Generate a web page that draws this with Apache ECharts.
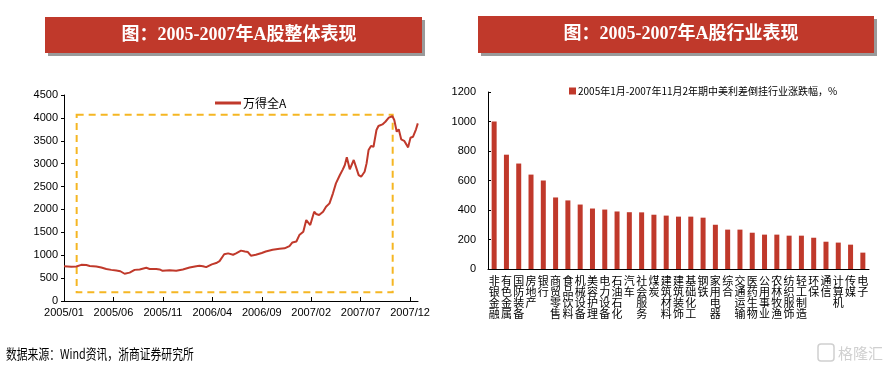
<!DOCTYPE html>
<html><head><meta charset="utf-8">
<script src="https://cdn.jsdelivr.net/npm/echarts@6/dist/echarts.min.js"></script>
<style>html,body{margin:0;padding:0;background:#fff}#c{width:893px;height:371px}</style>
</head><body><div id="c"></div>
<script>
// Left chart: 万得全A index, x = months since 2005/01
const lineMonths = [0,0.74,1.25,1.75,2.26,2.6,3.27,3.77,4.28,4.78,4.95,5.29,5.7,6.13,6.64,7.14,7.65,8.32,8.66,9.33,9.67,9.97,10.68,11.35,12.02,12.7,13.37,13.7,14.05,14.38,14.95,15.39,15.73,16.2,16.6,16.75,17.1,17.4,17.9,18.3,18.6,18.9,19.4,20,20.4,21.1,21.8,22.3,22.8,23.1,23.5,23.8,24.2,24.5,24.7,24.9,25.3,25.5,25.8,26.2,26.5,26.85,27.2,27.5,27.9,28.2,28.4,28.6,28.9,29.1,29.3,29.5,29.8,30.05,30.4,30.6,30.8,31.05,31.3,31.6,31.8,32.2,32.5,32.85,33.2,33.4,33.65,33.85,34.1,34.4,34.8,35.04,35.3,35.6,35.78];
const lineValues = [760,750,755,790,785,765,755,730,700,680,640,665,650,595,620,680,690,725,700,700,690,660,670,660,690,730,760,770,760,740,800,830,870,1020,1040,1070,1010,1040,1100,1080,1070,990,1010,1050,1080,1120,1140,1150,1200,1280,1300,1440,1513,1769,1732,1660,1950,1900,1878,1950,2060,2133,2352,2570,2752,2876,2970,3138,2876,2870,3080,3040,2750,2715,2824,3006,3298,3385,3370,3735,3822,3858,3916,4004,4040,3953,3698,3750,3531,3500,3356,3567,3589,3750,3880];
const xTickMonths = [0,5,10,15,20,25,30,35];
const xTickLabels = ['2005/01','2005/06','2005/11','2006/04','2006/09','2007/02','2007/07','2007/12'];
const boxMonths = [1.28, 33.24];
const boxValues = [190, 4070];

// Right chart: industries
const industries = ['非银金融','有色金属','国防装备','房地产','银行','商贸零售','食品饮料','机械设备','美容护理','电力设备','石油石化','汽车','社会服务','煤炭','建筑材料','建筑装饰','基础化工','钢铁','家用电器','综合','交通运输','医药生物','公用事业','农林牧渔','纺织服饰','轻工制造','环保','通信','计算机','传媒','电子'];
const industryReturns = [1000,775,715,640,600,485,465,437,410,403,390,385,384,368,362,355,355,348,300,267,267,246,233,233,226,226,212,185,179,165,111];

const leftName = '万得全A';
const rightName = '2005年1月-2007年11月2年期中美利差倒挂行业涨跌幅，%';

const RED = '#c0392b';
const chart = echarts.init(document.getElementById('c'));
const sans = '"Liberation Sans","Noto Sans CJK SC",sans-serif';
const cjk = '"Noto Sans CJK SC","Liberation Sans",sans-serif';

function titleBox(x, y, w, h, text, cx) {
  return [
    {type:'rect', shape:{x:x+3,y:y+3,width:w,height:h}, style:{fill:'#9a9a9a'}, silent:true},
    {type:'rect', shape:{x:x,y:y,width:w,height:h}, style:{fill:RED}, silent:true},
    {type:'text', x:cx, y:y+h/2, style:{text:text, fill:'#fff', fontSize:18, fontWeight:'bold',
      fontFamily:'"Liberation Serif","Noto Sans CJK SC",serif', align:'center', verticalAlign:'middle'}, silent:true}
  ];
}

chart.setOption({
  animation:false,
  backgroundColor:'#fff',
  graphic: [].concat(
    titleBox(45,17,377,36,'图：2005-2007年A股整体表现',239),
    titleBox(478,16,396,37,'图：2005-2007年A股行业表现',681),
    [{type:'text', x:6, y:354, scaleX:0.8, style:{text:'数据来源：Wind资讯，浙商证券研究所', fill:'#000', fontSize:13.5, fontFamily:cjk, verticalAlign:'middle'}},
     {type:'text', x:838, y:353, style:{text:'格隆汇', fill:'#d0d0d0', fontSize:15, fontFamily:cjk, verticalAlign:'middle'}},
     {type:'rect', shape:{x:818,y:344,width:16,height:17,r:3}, style:{fill:'none', stroke:'#d0d0d0', lineWidth:1.5}}]
  ),
  legend:[
    {data:[leftName], left:210, top:92, icon:'rect', itemWidth:26, itemHeight:3, itemGap:4,
     textStyle:{fontSize:12, color:'#000', fontFamily:cjk, padding:[0,0,0,-3]}},
    {data:[rightName], left:564, top:81, icon:'rect', itemWidth:7, itemHeight:7,
     textStyle:{fontSize:10, color:'#000', fontFamily:cjk, padding:[0,0,0,-3]}}
  ],
  grid:[
    {left:64, top:95, width:354, height:206},
    {left:488, top:92, width:381, height:177}
  ],
  xAxis:[
    {type:'value', gridIndex:0, min:0, max:35.8,
     axisLine:{lineStyle:{color:'#000', width:1}},
     axisTick:{inside:true, length:4, customValues:xTickMonths, lineStyle:{color:'#000'}},
     axisLabel:{customValues:xTickMonths, formatter:v=>{const i=xTickMonths.indexOf(v);return i>=0?xTickLabels[i]:'';}, color:'#000', fontSize:11, fontFamily:sans, margin:6},
     splitLine:{show:false}},
    {type:'category', gridIndex:1, data:industries,
     axisLine:{lineStyle:{color:'#000', width:1}},
     axisTick:{length:3, lineStyle:{color:'#000'}},
     axisLabel:{interval:0, formatter:v=>v.split('').join('\n'), color:'#000', fontSize:11, lineHeight:11, fontFamily:cjk, margin:6, verticalAlign:'top'}}
  ],
  yAxis:[
    {type:'value', gridIndex:0, min:0, max:4500, interval:500,
     axisLine:{show:true, lineStyle:{color:'#000', width:1}},
     axisTick:{show:true, length:3, lineStyle:{color:'#000'}},
     axisLabel:{formatter:v=>String(v), color:'#000', fontSize:11, fontFamily:sans, margin:6},
     splitLine:{show:false}},
    {type:'value', gridIndex:1, min:0, max:1200, interval:200,
     axisLine:{show:true, lineStyle:{color:'#000', width:1}},
     axisTick:{show:true, inside:true, length:3, lineStyle:{color:'#000'}},
     axisLabel:{formatter:v=>String(v), color:'#000', fontSize:11, fontFamily:sans, margin:12},
     splitLine:{show:false}}
  ],
  series:[
    {name:leftName, type:'line', xAxisIndex:0, yAxisIndex:0, showSymbol:false, symbol:'none',
     data: lineMonths.map((m,i)=>[m, lineValues[i]]),
     lineStyle:{color:RED, width:2}, itemStyle:{color:RED},
     markArea:{silent:true, itemStyle:{color:'rgba(0,0,0,0)', borderColor:'#f5b623', borderWidth:2, borderType:[7,5]},
       data:[[{coord:[boxMonths[0], boxValues[1]]},{coord:[boxMonths[1], boxValues[0]]}]]}},
    {name:rightName, type:'bar', xAxisIndex:1, yAxisIndex:1, data:industryReturns,
     barWidth:5, itemStyle:{color:RED}}
  ]
});
</script></body></html>
